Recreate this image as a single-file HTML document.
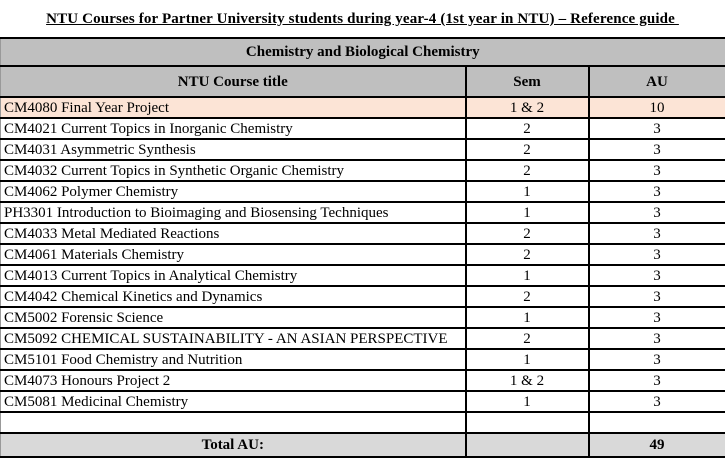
<!DOCTYPE html>
<html><head><style>
body{margin:0;width:725px;height:461px;background:#fff;font-family:"Liberation Serif",serif;font-size:15px;color:#000;position:relative;overflow:hidden}
.t{position:absolute;top:11px;left:0;width:725px;text-align:center;font-weight:bold;text-decoration:underline;font-size:15px;letter-spacing:0.15px}
table{position:absolute;left:0;top:37px;border-collapse:collapse;table-layout:fixed;width:725px}
td{border:2px solid #000;padding:0 3px;height:19px;line-height:18px;white-space:nowrap;overflow:hidden}
td.c{text-align:center}
tr.h td{background:#bfbfbf;font-weight:bold;text-align:center}
tr.p td{background:#fce4d6}
tr.tot td{background:#d9d9d9;font-weight:bold;text-align:center;height:22px}
td:first-child{border-left:1px solid #999}
</style></head><body>
<div class="t">NTU Courses for Partner University students during year-4 (1st year in NTU) – Reference guide&nbsp;</div>
<table>
<colgroup><col style="width:465px"><col style="width:123px"><col style="width:137px"></colgroup>
<tr class="h"><td colspan="3" style="height:26px">Chemistry and Biological Chemistry</td></tr>
<tr class="h"><td style="height:29px">NTU Course title</td><td>Sem</td><td>AU</td></tr>
<tr class="p"><td>CM4080 Final Year Project</td><td class="c">1 &amp; 2</td><td class="c">10</td></tr>
<tr><td>CM4021 Current Topics in Inorganic Chemistry</td><td class="c">2</td><td class="c">3</td></tr>
<tr><td>CM4031 Asymmetric Synthesis</td><td class="c">2</td><td class="c">3</td></tr>
<tr><td>CM4032 Current Topics in Synthetic Organic Chemistry</td><td class="c">2</td><td class="c">3</td></tr>
<tr><td>CM4062 Polymer Chemistry</td><td class="c">1</td><td class="c">3</td></tr>
<tr><td>PH3301 Introduction to Bioimaging and Biosensing Techniques</td><td class="c">1</td><td class="c">3</td></tr>
<tr><td>CM4033 Metal Mediated Reactions</td><td class="c">2</td><td class="c">3</td></tr>
<tr><td>CM4061 Materials Chemistry</td><td class="c">2</td><td class="c">3</td></tr>
<tr><td>CM4013 Current Topics in Analytical Chemistry</td><td class="c">1</td><td class="c">3</td></tr>
<tr><td>CM4042 Chemical Kinetics and Dynamics</td><td class="c">2</td><td class="c">3</td></tr>
<tr><td>CM5002 Forensic Science</td><td class="c">1</td><td class="c">3</td></tr>
<tr><td>CM5092 CHEMICAL SUSTAINABILITY - AN ASIAN PERSPECTIVE</td><td class="c">2</td><td class="c">3</td></tr>
<tr><td>CM5101 Food Chemistry and Nutrition</td><td class="c">1</td><td class="c">3</td></tr>
<tr><td>CM4073 Honours Project 2</td><td class="c">1 &amp; 2</td><td class="c">3</td></tr>
<tr><td>CM5081 Medicinal Chemistry</td><td class="c">1</td><td class="c">3</td></tr>
<tr><td></td><td></td><td></td></tr>
<tr class="tot"><td>Total AU:</td><td></td><td>49</td></tr>
</table>
</body></html>
